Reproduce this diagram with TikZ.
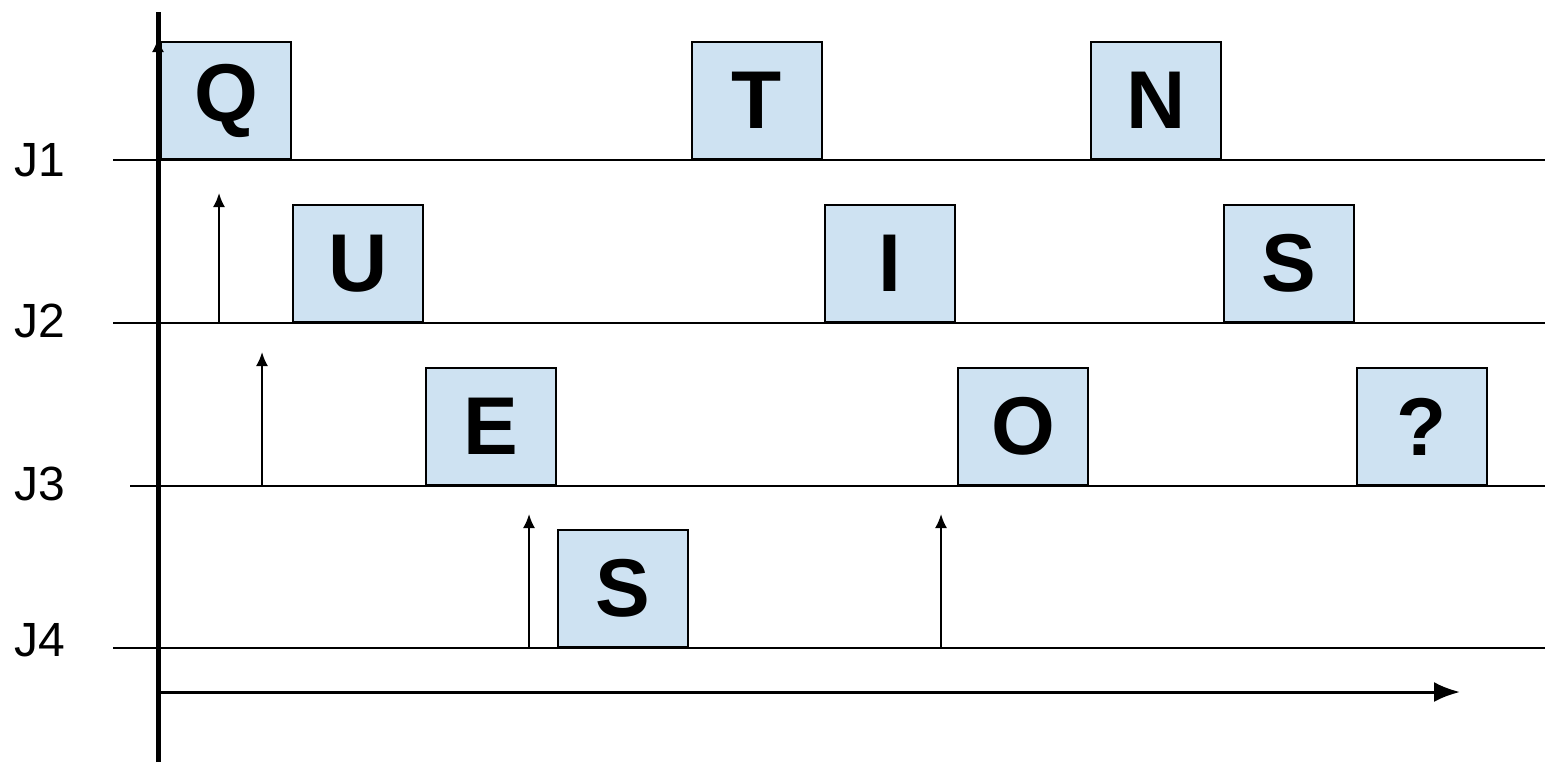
\documentclass[tikz,border=0pt]{standalone}
\usepackage{fontspec}
\setmainfont{Liberation Sans}
\usetikzlibrary{arrows.meta}
\definecolor{boxblue}{RGB}{206,226,242}
\tikzset{
  job/.style={draw=black, line width=1pt, fill=boxblue, anchor=south west,
    minimum width=65pt, minimum height=58.5pt, inner sep=0pt,
    font=\fontsize{41}{41}\selectfont\bfseries},
  lane/.style={line width=0.9pt},
  jlabel/.style={font=\fontsize{24}{24}\selectfont, inner sep=0pt},
  release/.style={line width=1pt, -{Latex[length=7pt,width=6pt]}},
}
\begin{document}
\begin{tikzpicture}[x=0.5pt,y=-0.5pt]
\useasboundingbox (0,0) rectangle (1545,762);
% lanes
\coordinate (l1s) at (113,160); \coordinate (l1e) at (1545,160);
\coordinate (l2s) at (113,323); \coordinate (l2e) at (1545,323);
\coordinate (l3s) at (130,486); \coordinate (l3e) at (1545,486);
\coordinate (l4s) at (113,648); \coordinate (l4e) at (1545,648);
\draw[lane] (l1s) -- (l1e);
\draw[lane] (l2s) -- (l2e);
\draw[lane] (l3s) -- (l3e);
\draw[lane] (l4s) -- (l4e);
% labels
\node[jlabel] (j1) at (40,160) {J1};
\node[jlabel] (j2) at (40,321) {J2};
\node[jlabel] (j3) at (40,484) {J3};
\node[jlabel] (j4) at (40,640) {J4};
% boxes
\node[job] (q)  at (160,160) {Q};
\node[job] (t)  at (691,160) {T};
\node[job] (n)  at (1090,160) {N};
\node[job] (u)  at (292,323) {U};
\node[job] (i)  at (824,323) {I};
\node[job] (s1) at (1223,323) {S};
\node[job] (e)  at (425,486) {E};
\node[job] (o)  at (957,486) {O};
\node[job] (qm) at (1356,486) {?};
\node[job] (s2) at (557,648) {S};
% release arrows
\coordinate (a1b) at (219,323); \coordinate (a1t) at (219,193);
\coordinate (a2b) at (262,486); \coordinate (a2t) at (262,352);
\coordinate (a3b) at (529,648); \coordinate (a3t) at (529,514);
\coordinate (a4b) at (941,648); \coordinate (a4t) at (941,514);
\draw[release] (a1b) -- (a1t);
\draw[release] (a2b) -- (a2t);
\draw[release] (a3b) -- (a3t);
\draw[release] (a4b) -- (a4t);
% axes
\coordinate (yb) at (158,762); \coordinate (yt) at (158,12);
\coordinate (ya) at (158,52); \coordinate (yat) at (158,38);
\draw[line width=2.5pt] (yb) -- (yt);
\draw[line width=1pt, -{Latex[length=7pt,width=6pt]}] (ya) -- (yat);
\coordinate (xs) at (160,692); \coordinate (xe) at (1460,692);
\draw[line width=1.5pt, -{Latex[length=13pt,width=10pt]}] (xs) -- (xe);
\end{tikzpicture}
\end{document}
